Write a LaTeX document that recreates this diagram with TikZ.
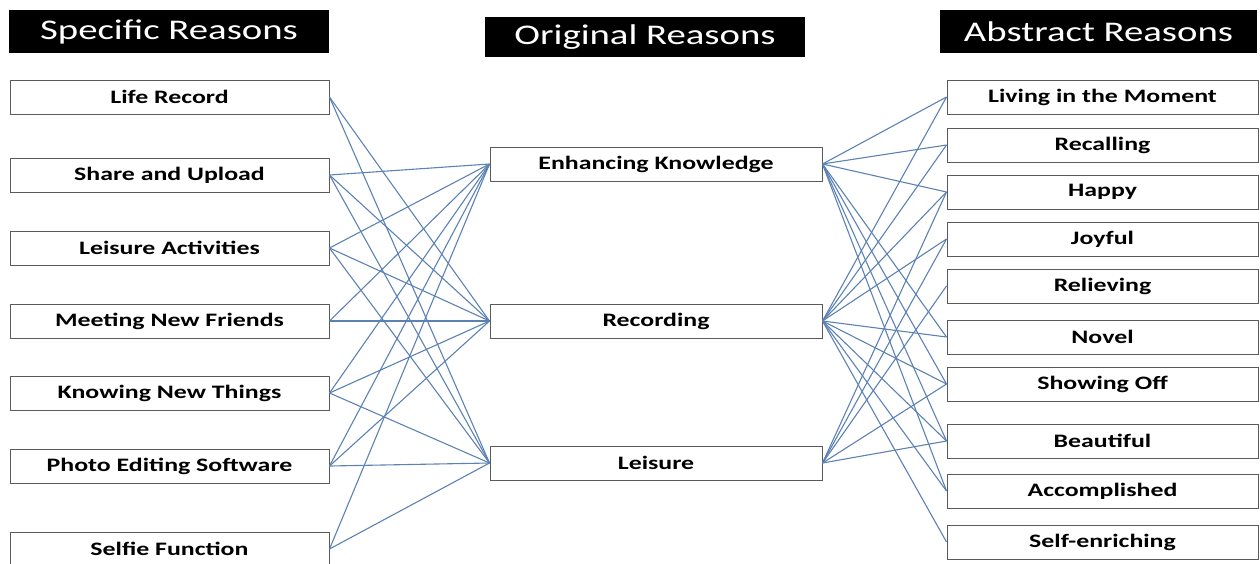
\documentclass[tikz,border=0pt]{standalone}
\usepackage{fontspec}
\setmainfont{Carlito}[FakeStretch=1.36]
\definecolor{linkblue}{RGB}{92,130,180}
\definecolor{boxgray}{RGB}{90,90,90}
\begin{document}
\begin{tikzpicture}[x=1pt,y=-1pt,
  box/.style={draw=boxgray, line width=1pt, fill=white, minimum height=34pt, inner sep=0pt, font=\fontsize{19}{22}\selectfont\bfseries},
  lbox/.style={box, minimum width=319pt},
  mbox/.style={box, minimum width=332pt},
  rbox/.style={box, minimum width=311pt},
  head/.style={fill=black, text=white, minimum height=43pt, minimum width=320pt, inner sep=0pt, font=\fontsize{28.5}{32}\selectfont},
  link/.style={draw=linkblue, line width=1.1pt}]
\useasboundingbox (0,0) rectangle (1260,563);
% headers
\node[head] (hs) at (169,31.5) {\raisebox{-2pt}{Specific Reasons}};
\node[head, minimum height=40pt] (ho) at (645,37) {\raisebox{-2pt}{Original Reasons}};
\node[head, minimum width=317pt] (ha) at (1098.5,31.5) {\raisebox{-1pt}{Abstract Reasons}};
% left
\node[lbox] (s1) at (169.5,97) {Life Record};
\node[lbox] (s2) at (169.5,175) {Share and Upload};
\node[lbox] (s3) at (169.5,248) {Leisure Activities};
\node[lbox] (s4) at (169.5,321) {Meeting New Friends};
\node[lbox] (s5) at (169.5,393) {Knowing New Things};
\node[lbox] (s6) at (169.5,466) {Photo Editing Software};
\node[lbox] (s7) at (169.5,549) {Selfie Function};
% middle
\node[mbox] (m1) at (656,164) {Enhancing Knowledge};
\node[mbox] (m2) at (656,321) {Recording};
\node[mbox] (m3) at (656,463) {Leisure};
% right
\node[rbox] (a1) at (1102.5,97) {Living in the Moment};
\node[rbox] (a2) at (1102.5,145) {Recalling};
\node[rbox] (a3) at (1102.5,192) {Happy};
\node[rbox] (a4) at (1102.5,239) {Joyful};
\node[rbox] (a5) at (1102.5,286) {Relieving};
\node[rbox] (a6) at (1102.5,337) {Novel};
\node[rbox] (a7) at (1102.5,384) {Showing Off};
\node[rbox] (a8) at (1102.5,441) {Beautiful};
\node[rbox] (a9) at (1102.5,491) {Accomplished};
\node[rbox] (a10) at (1102.5,542) {Self-enriching};
% left links
\foreach \s/\m in {s1/m2,s1/m3,
  s2/m1,s2/m2,s2/m3,
  s3/m1,s3/m2,s3/m3,
  s4/m1,s4/m2,
  s5/m1,s5/m2,s5/m3,
  s6/m1,s6/m2,s6/m3,
  s7/m1,s7/m3}
  \draw[link] (\s.east) -- (\m.west);
% right links
\foreach \m/\a in {m1/a1,m1/a2,m1/a3,m1/a6,m1/a7,m1/a8,m1/a9,
  m2/a1,m2/a2,m2/a3,m2/a4,m2/a6,m2/a7,m2/a8,m2/a9,m2/a10,
  m3/a3,m3/a4,m3/a5,m3/a7,m3/a8}
  \draw[link] (\m.east) -- (\a.west);
\end{tikzpicture}
\end{document}
